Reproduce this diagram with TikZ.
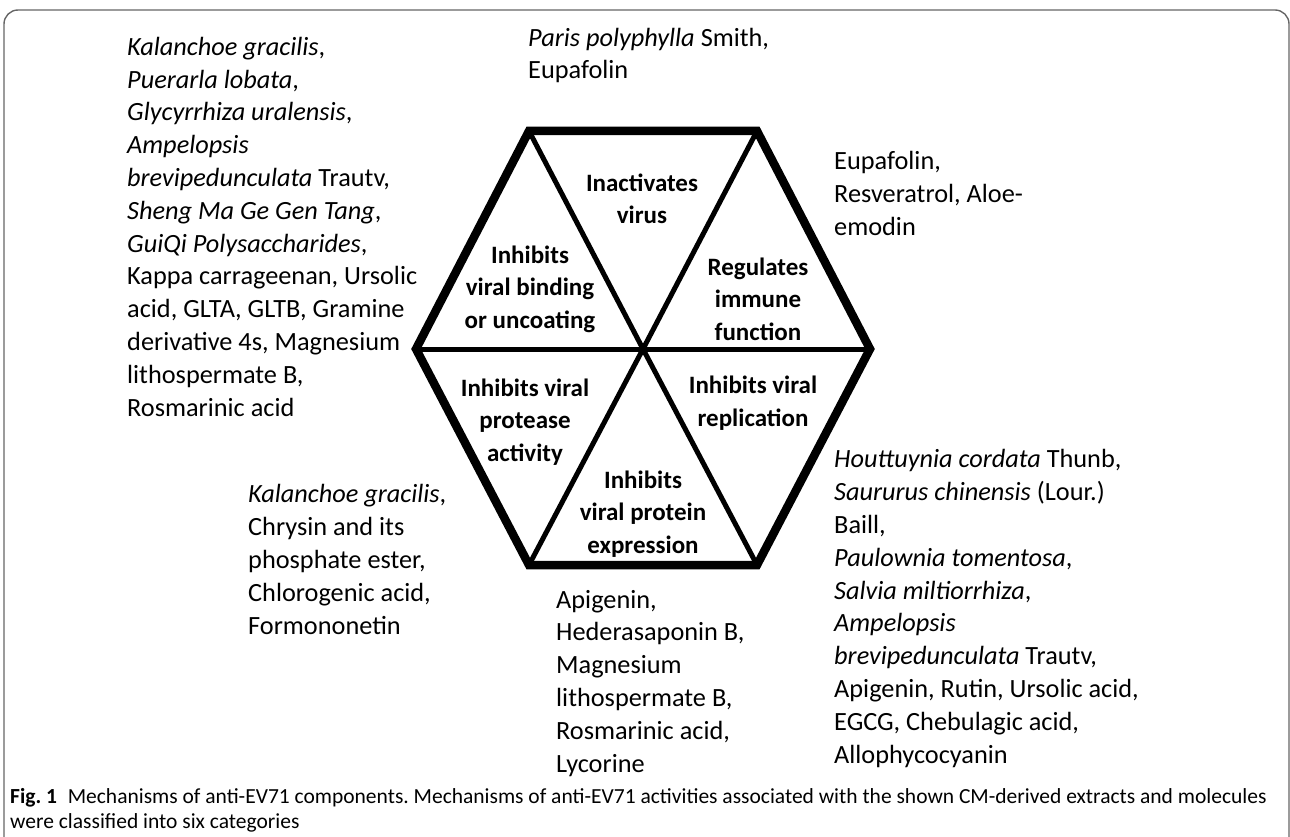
\documentclass[tikz,border=0pt]{standalone}
\usepackage{fontspec}
\setmainfont{Carlito}
\begin{document}
\frenchspacing
\begin{tikzpicture}[x=1pt,y=-1pt,
  plant/.style={anchor=base west,align=left,inner sep=0pt,font=\fontsize{26.3}{32.8}\selectfont},
  mech/.style={align=center,inner sep=0pt,font=\bfseries\fontsize{25}{32.5}\selectfont},
  rim/.style={line width=8.5pt,line join=miter},
  spoke/.style={line width=5pt}]
\useasboundingbox (0,0) rectangle (1290,837);
% frame
\draw[gray!80!black,line width=1.4pt,rounded corners=14pt] (4,840) -- (4,10) -- (1289,10) -- (1289,840);

% hexagon
\coordinate (c) at (643,349);
\coordinate (v1) at (757,131);
\coordinate (v2) at (529,131);
\coordinate (v3) at (416,349);
\coordinate (v4) at (529,565);
\coordinate (v5) at (757,565);
\coordinate (v6) at (870,349);
\foreach \v in {1,...,6}
{
	\draw[spoke] (c) -- (v\v);
}
\draw[rim] (v1) -- (v2) -- (v3) -- (v4) -- (v5) -- (v6) -- cycle;

% mechanisms
\node[mech] (inact) at (642,199) {Inactivates\\virus};
\node[mech] (bind) at (530,289) {Inhibits\\viral binding\\or uncoating};
\node[mech] (immune) at (758,299) {Regulates\\immune\\function};
\node[mech] (protease) at (525,422) {Inhibits viral\\protease\\activity};
\node[mech] (replic) at (753,403) {Inhibits viral\\replication};
\node[mech] (express) at (643,514) {Inhibits\\viral protein\\expression};

% components (anchored at the baseline of the last line)
\node[plant] (binders) at (127,416) {\textit{Kalanchoe gracilis},\\\textit{Puerarla lobata},\\\textit{Glycyrrhiza uralensis},\\\textit{Ampelopsis}\\\textit{brevipedunculata} Trautv,\\\textit{Sheng Ma Ge Gen Tang},\\\textit{GuiQi Polysaccharides},\\Kappa carrageenan, Ursolic\\acid, GLTA, GLTB, Gramine\\derivative 4s, Magnesium\\lithospermate B,\\Rosmarinic acid};
\node[plant] (inactivators) at (528,79) {\textit{Paris polyphylla} Smith,\\Eupafolin};
\node[plant] (regulators) at (834,235) {Eupafolin,\\Resveratrol, Aloe-\\emodin};
\node[plant] (replicators) at (834,763) {\textit{Houttuynia cordata} Thunb,\\\textit{Saururus chinensis} (Lour.)\\Baill,\\\textit{Paulownia tomentosa},\\\textit{Salvia miltiorrhiza},\\\textit{Ampelopsis}\\\textit{brevipedunculata} Trautv,\\Apigenin, Rutin, Ursolic acid,\\EGCG, Chebulagic acid,\\Allophycocyanin};
\node[plant] (proteasers) at (248,634) {\textit{Kalanchoe gracilis},\\Chrysin and its\\phosphate ester,\\Chlorogenic acid,\\Formononetin};
\node[plant] (expressers) at (556,772) {Apigenin,\\Hederasaponin B,\\Magnesium\\lithospermate B,\\Rosmarinic acid,\\Lycorine};

% caption
\node[anchor=base west,align=left,inner sep=0pt,font=\fontsize{21.5}{24.5}\selectfont] (caption) at (10,828) {\textbf{Fig. 1}\hspace{0.5em}Mechanisms of anti-EV71 components. Mechanisms of anti-EV71 activities associated with the shown CM-derived extracts and molecules\\were classified into six categories};
\end{tikzpicture}
\end{document}
